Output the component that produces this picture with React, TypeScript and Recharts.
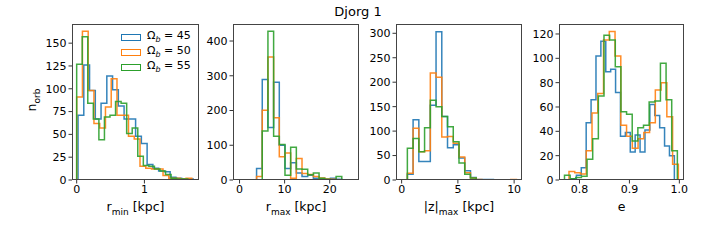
import React from "react";
import { LineChart, Line, XAxis, YAxis } from "recharts";

const COLORS = ["#1f77b4", "#ff7f0e", "#2ca02c"];
const omegaB = ["45", "50", "55"];

// r_min [kpc]: bin range and counts per series
const rminRanges = [[0.02, 1.72], [0.0, 1.7], [0.0, 1.64]];
const rminBlue = [71, 126, 98, 67, 84, 114, 99, 81, 67, 67, 48, 40, 17, 13, 10, 9, 3, 2, 1, 1];
const rminOrange = [91, 163, 98, 62, 57, 80, 111, 71, 71, 48, 45, 15, 13, 12, 12, 5, 2, 2, 1, 2];
const rminGreen = [127, 157, 84, 67, 44, 69, 71, 86, 84, 51, 57, 26, 16, 15, 12, 10, 6, 2, 1, 1];

// r_max [kpc]
const rmaxRanges = [[0, 25.2], [0, 25.2], [0, 25.2]];
const rmaxBlue = [0, 0, 0, 33, 289, 151, 281, 100, 33, 50, 20, 10, 14, 5, 3, 2, 5, 2, 0, 1];
const rmaxOrange = [0, 0, 0, 10, 201, 354, 179, 67, 78, 5, 62, 19, 16, 10, 6, 3, 2, 1, 0, 1];
const rmaxGreen = [0, 0, 0, 0, 141, 428, 126, 102, 14, 94, 32, 31, 15, 20, 5, 2, 0, 10, 0, 0];

// |z|max [kpc]
const zmaxRanges = [[0, 10.2], [0, 10.2], [0, 10.2]];
const zmaxBlue = [0, 12, 123, 38, 38, 153, 303, 130, 66, 72, 45, 19, 5, 1, 1, 1, 0, 0, 0, 0];
const zmaxOrange = [0, 14, 106, 58, 60, 219, 210, 88, 89, 75, 47, 15, 4, 1, 0, 0, 0, 0, 0, 1];
const zmaxGreen = [0, 65, 85, 58, 107, 163, 150, 130, 109, 78, 35, 12, 4, 0, 0, 0, 0, 0, 0, 0];

// e
const eRanges = [[0.784, 0.99], [0.779, 0.998], [0.77, 0.996]];
const eBlue = [1, 4, 10, 47, 66, 102, 114, 89, 91, 72, 36, 39, 23, 37, 23, 41, 62, 53, 43, 28, 20];
const eOrange = [7, 6, 5, 24, 55, 71, 115, 122, 102, 45, 36, 26, 34, 39, 47, 74, 80, 52, 13];
const eGreen = [4, 1, 2, 3, 17, 34, 69, 119, 115, 93, 56, 54, 32, 43, 45, 64, 65, 96, 66, 24];

const FONT = "DejaVu Sans, sans-serif";

function histPoints(range: number[], counts: number[]) {
  const [lo, hi] = range;
  const w = (hi - lo) / counts.length;
  const pts = [{ x: lo, y: 0 }];
  counts.forEach((c, i) => pts.push({ x: lo + i * w, y: c }));
  pts.push({ x: hi, y: counts[counts.length - 1] });
  pts.push({ x: hi, y: 0 });
  return pts;
}

const sub = (t: string, italic = false) => (
  <sub style={{ fontSize: "0.72em", fontStyle: italic ? "italic" : "normal" }}>{t}</sub>
);

const panels = [
  {
    left: 72, width: 127,
    xDomain: [-0.069, 1.806], xTicks: [0, 1], fmt: (v: number) => String(v),
    yDomain: [0, 171], yTicks: [0, 25, 50, 75, 100, 125, 150],
    series: [histPoints(rminRanges[0], rminBlue), histPoints(rminRanges[1], rminOrange), histPoints(rminRanges[2], rminGreen)],
    label: <>r{sub("min")} [kpc]</>,
  },
  {
    left: 233, width: 126,
    xDomain: [-1.45, 26.5], xTicks: [0, 10, 20], fmt: (v: number) => String(v),
    yDomain: [0, 449], yTicks: [0, 100, 200, 300, 400],
    series: [histPoints(rmaxRanges[0], rmaxBlue), histPoints(rmaxRanges[1], rmaxOrange), histPoints(rmaxRanges[2], rmaxGreen)],
    label: <>r{sub("max")} [kpc]</>,
  },
  {
    left: 396, width: 126,
    xDomain: [-0.5, 10.7], xTicks: [0, 5, 10], fmt: (v: number) => String(v),
    yDomain: [0, 319], yTicks: [0, 50, 100, 150, 200, 250, 300],
    series: [histPoints(zmaxRanges[0], zmaxBlue), histPoints(zmaxRanges[1], zmaxOrange), histPoints(zmaxRanges[2], zmaxGreen)],
    label: <>|z|{sub("max")} [kpc]</>,
  },
  {
    left: 559, width: 125,
    xDomain: [0.759, 1.0093], xTicks: [0.8, 0.9, 1.0], fmt: (v: number) => v.toFixed(1),
    yDomain: [0, 128.2], yTicks: [0, 20, 40, 60, 80, 100, 120],
    series: [histPoints(eRanges[0], eBlue), histPoints(eRanges[1], eOrange), histPoints(eRanges[2], eGreen)],
    label: <>e</>,
  },
];

const YW = 40;
const RM = 20;
const tickStyle = { fill: "#000", fontSize: 11, fontFamily: FONT };

export default function App() {
  return (
    <div style={{ position: "absolute", left: 0, top: 0, width: 720, height: 240, background: "#fff", fontFamily: FONT }}>
      <div style={{ position: "absolute", left: 0, width: 716, top: 4, textAlign: "center", fontSize: 13 }}>Djorg 1</div>
      <div style={{ position: "absolute", left: 33, top: 100, transform: "translate(-50%, -50%) rotate(-90deg)", fontSize: 12.5, whiteSpace: "nowrap" }}>
        n{sub("orb")}
      </div>
      {panels.map((p, k) => (
        <React.Fragment key={k}>
          <div style={{ position: "absolute", left: p.left - YW, top: 0 }}>
            <LineChart width={p.width + YW + RM} height={240} margin={{ top: 24, right: RM, bottom: 0, left: 0 }}>
              <XAxis
                dataKey="x" type="number" domain={p.xDomain} ticks={p.xTicks} allowDataOverflow
                tickFormatter={p.fmt} height={60} axisLine={false} tickSize={3.5}
                tickLine={{ stroke: "#333" }} tick={tickStyle} interval={0}
              />
              <YAxis
                dataKey="y" type="number" domain={p.yDomain} ticks={p.yTicks} allowDataOverflow
                width={YW} axisLine={false} tickSize={3.5}
                tickLine={{ stroke: "#333" }} tick={tickStyle} interval={0}
              />
              {p.series.map((s, i) => (
                <Line
                  key={i} data={s} dataKey="y" type="stepAfter" stroke={COLORS[i]} strokeWidth={1.5}
                  strokeOpacity={0.9} dot={false} activeDot={false} isAnimationActive={false}
                />
              ))}
            </LineChart>
          </div>
          <div style={{ position: "absolute", left: p.left, top: 24, width: p.width, height: 156, border: "1px solid #444", boxSizing: "border-box", pointerEvents: "none" }} />
          <div style={{ position: "absolute", left: p.left, width: p.width, top: 199, textAlign: "center", fontSize: 12.5, whiteSpace: "nowrap" }}>
            {p.label}
          </div>
        </React.Fragment>
      ))}
      {omegaB.map((v, i) => (
        <div key={v} style={{ position: "absolute", left: 121, top: 30 + 15 * i, height: 14, display: "flex", alignItems: "center", fontSize: 11 }}>
          <div style={{ width: 20, height: 7, border: `1.5px solid ${COLORS[i]}`, boxSizing: "border-box", marginRight: 6 }} />
          <span>Ω{sub("b", true)} = {v}</span>
        </div>
      ))}
    </div>
  );
}
